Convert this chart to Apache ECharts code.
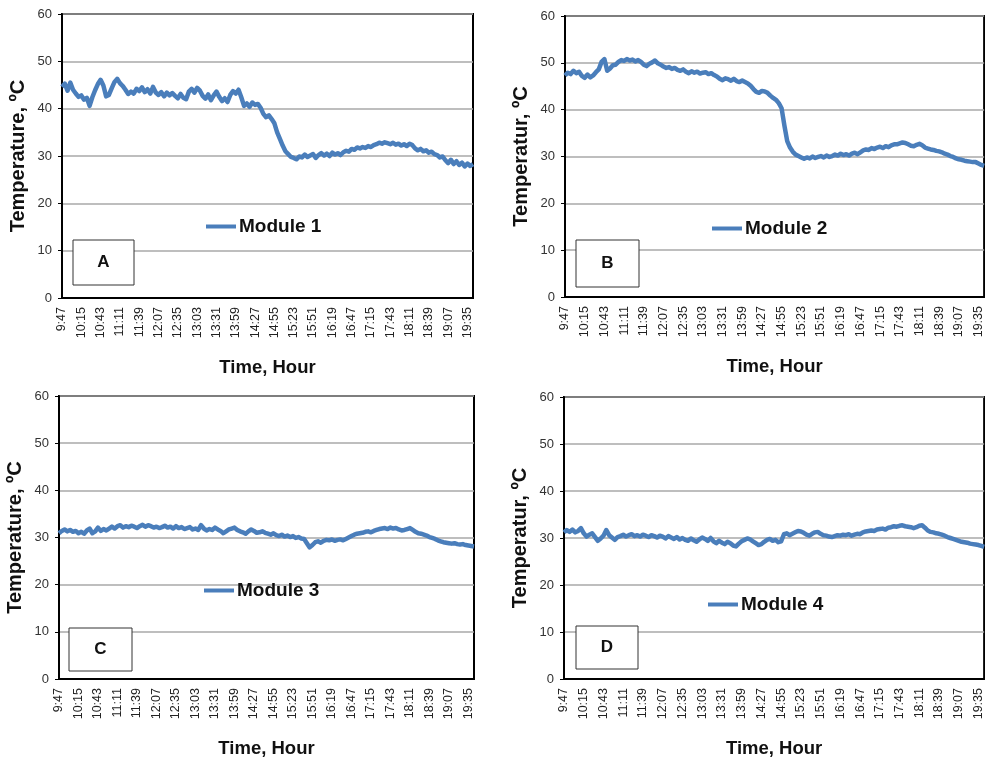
<!DOCTYPE html>
<html>
<head>
<meta charset="utf-8">
<script src="https://cdn.jsdelivr.net/npm/echarts@6/dist/echarts.min.js"></script>
<style>html,body{margin:0;padding:0;background:#fff}#c{width:985px;height:759px}</style>
</head>
<body>
<div id="c"></div>
<script>
// Sampling grid: readings every 4 minutes starting at 9:47 (tick labels every 28 minutes)
const startTime = '9:47';
const stepMinutes = 4;
const tickLabels = ['9:47','10:15','10:43','11:11','11:39','12:07','12:35','13:03','13:31','13:59','14:27','14:55','15:23','15:51','16:19','16:47','17:15','17:43','18:11','18:39','19:07','19:35'];

const module1 = [44.6,45.3,43.8,45.5,44.0,43.2,42.5,42.8,41.9,42.3,
40.6,42.4,43.9,45.2,46.1,44.9,42.6,42.9,44.3,45.6,
46.3,45.4,44.8,44.0,43.1,43.6,43.2,44.2,43.7,44.5,
43.5,44.1,43.2,44.6,43.4,42.9,43.5,42.6,43.4,42.8,
43.3,42.7,42.2,43.1,42.3,42.0,43.6,44.2,43.4,44.4,
43.8,42.7,42.1,43.0,41.8,42.8,43.6,42.5,41.6,42.2,
41.4,42.9,43.7,43.2,44.0,42.4,40.6,41.1,40.4,41.3,
40.8,41.0,40.2,38.9,38.2,38.6,37.8,36.9,35.0,33.6,
32.2,31.0,30.4,29.8,29.6,29.3,29.9,29.7,30.3,29.8,
30.1,30.4,29.6,30.2,30.6,30.1,30.5,30.0,30.7,30.3,
30.6,30.2,30.8,31.1,30.9,31.5,31.3,31.8,31.6,31.9,
31.7,32.1,31.9,32.3,32.5,32.8,32.6,32.9,32.7,32.5,
32.8,32.4,32.6,32.2,32.5,32.1,32.6,32.3,31.6,31.2,
31.5,31.0,31.2,30.7,30.9,30.4,30.2,29.7,29.9,29.1,
28.5,29.2,28.3,28.9,28.1,28.6,27.8,28.4,27.9,28.3];

const module2 = [47.3,47.9,47.6,48.3,47.8,48.1,47.2,46.8,47.5,46.9,
47.3,48.0,48.6,50.2,50.8,48.3,48.8,49.5,49.6,50.2,
50.6,50.4,50.8,50.5,50.7,50.3,50.6,50.2,49.6,49.3,
49.8,50.1,50.5,49.9,49.6,49.2,48.9,49.1,48.7,48.9,
48.5,48.3,48.6,48.1,47.8,48.2,47.9,48.1,47.7,47.9,
48.0,47.6,47.8,47.4,47.1,46.6,46.3,46.7,46.5,46.2,
46.6,46.1,45.9,46.2,45.9,45.6,45.1,44.4,43.8,43.6,
44.0,43.9,43.6,43.0,42.5,42.1,41.4,40.3,36.6,33.3,
31.9,31.0,30.4,30.1,29.8,29.5,29.8,29.6,30.0,29.7,
29.9,30.1,29.8,30.2,29.9,30.1,30.4,30.2,30.6,30.3,
30.5,30.2,30.6,30.8,30.5,30.9,31.3,31.5,31.4,31.8,
31.6,31.9,32.1,31.8,32.2,32.0,32.4,32.6,32.6,32.8,
33.0,32.9,32.6,32.3,32.2,32.5,32.7,32.4,31.9,31.7,
31.5,31.4,31.2,31.1,30.9,30.6,30.4,30.1,29.9,29.6,
29.4,29.3,29.1,29.0,28.9,28.8,28.8,28.5,28.2,28.0];

const module3 = [30.9,31.4,31.7,31.3,31.6,31.2,31.4,30.9,31.2,30.8,
31.5,31.9,30.9,31.3,32.1,31.4,31.8,31.5,31.9,32.3,
31.9,32.4,32.6,32.1,32.4,32.2,32.5,32.3,32.0,32.4,
32.7,32.3,32.6,32.4,32.1,32.3,32.0,32.2,32.5,32.1,
32.3,31.9,32.4,32.0,32.2,31.8,32.0,32.2,31.7,31.9,
31.6,32.6,31.9,31.5,31.8,31.6,32.1,31.7,31.4,30.9,
31.3,31.7,31.9,32.1,31.6,31.3,31.1,30.8,31.3,31.7,
31.4,31.0,31.1,31.3,31.0,30.8,30.6,30.9,30.5,30.3,
30.6,30.2,30.4,30.1,30.3,29.9,30.1,29.8,29.7,28.8,
27.9,28.4,29.0,29.2,28.9,29.3,29.5,29.4,29.6,29.3,
29.5,29.6,29.4,29.7,30.0,30.3,30.6,30.8,30.9,31.0,
31.2,31.3,31.1,31.4,31.6,31.8,31.9,32.0,31.8,32.1,
31.9,32.0,31.7,31.5,31.6,31.8,32.0,31.6,31.2,30.9,
30.8,30.6,30.4,30.1,29.9,29.7,29.4,29.2,29.0,28.9,
28.8,28.7,28.8,28.6,28.5,28.6,28.4,28.3,28.2,28.1];

const module4 = [31.2,31.7,31.3,31.8,31.2,31.5,32.1,31.0,30.3,30.7,
31.0,30.2,29.4,29.9,30.5,31.7,30.6,30.1,29.6,30.2,
30.4,30.7,30.3,30.6,30.8,30.4,30.6,30.3,30.7,30.5,
30.2,30.6,30.4,30.1,30.5,30.3,29.9,30.4,30.1,29.8,
30.2,29.7,30.0,29.6,29.4,29.9,29.5,29.2,29.7,30.1,
29.8,29.4,30.0,29.3,28.9,29.4,29.0,28.7,29.2,28.9,
28.4,28.2,28.8,29.3,29.6,29.9,29.7,29.3,28.9,28.5,
28.7,29.2,29.6,29.8,29.4,29.6,29.1,29.3,30.8,31.0,
30.6,30.9,31.2,31.5,31.4,31.1,30.7,30.5,30.9,31.2,
31.3,30.9,30.6,30.5,30.3,30.2,30.4,30.6,30.5,30.7,
30.6,30.8,30.5,30.7,30.9,30.8,31.2,31.4,31.5,31.6,
31.5,31.8,31.9,32.0,31.8,32.2,32.3,32.5,32.4,32.6,
32.7,32.5,32.4,32.3,32.1,32.3,32.6,32.7,32.2,31.6,
31.3,31.2,31.0,30.9,30.7,30.5,30.2,30.0,29.8,29.6,
29.4,29.2,29.1,29.0,28.8,28.7,28.6,28.5,28.3,28.1];

const seriesNames = ['Module 1','Module 2','Module 3','Module 4'];
const yTitles = ['Temperature, ºC','Temperatur, ºC','Temperature, ºC','Temperatur, ºC'];
const panelLetters = ['A','B','C','D'];
const xTitle = 'Time, Hour';

// build category axis (time stamps of readings)
const categories = [];
{
  const [h0, m0] = startTime.split(':').map(Number);
  let t = h0 * 60 + m0;
  for (let i = 0; i < module1.length; i++) {
    const h = Math.floor(t / 60), m = t % 60;
    categories.push(h + ':' + String(m).padStart(2, '0'));
    t += stepMinutes;
  }
}

const allData = [module1, module2, module3, module4];
const grids = [
  {left: 62, top: 14, width: 411, height: 284},
  {left: 565, top: 16, width: 422, height: 281},
  {left: 59, top: 396, width: 415, height: 287},
  {left: 564, top: 397, width: 421, height: 285}
];
const legendPos = [
  {left: 206, top: 217},
  {left: 712, top: 219},
  {left: 204, top: 581},
  {left: 708, top: 595}
];
const boxes = [
  {x: 73, y: 240, w: 61, h: 45},
  {x: 576, y: 240, w: 63, h: 47},
  {x: 69, y: 628, w: 63, h: 43},
  {x: 576, y: 626, w: 62, h: 43}
];
const FONT = '"Liberation Sans", Arial, sans-serif';
const LINE = '#4a7ebb';

const option = {
  animation: false,
  backgroundColor: '#fff',
  grid: grids.map(g => Object.assign({show: true, borderColor: '#000', borderWidth: 2, backgroundColor: '#fff', containLabel: false}, g)),
  xAxis: grids.map((g, k) => ({
    type: 'category', gridIndex: k, data: categories, boundaryGap: false,
    axisLine: {show: true, lineStyle: {color: '#000', width: 2}},
    axisTick: {show: false},
    axisLabel: {rotate: 90, interval: 6, fontFamily: FONT, fontSize: 12.5, color: '#222', margin: 9},
    splitLine: {show: false},
    name: xTitle, nameLocation: 'middle', nameGap: 60,
    nameTextStyle: {fontFamily: FONT, fontSize: 18.5, fontWeight: 'bold', color: '#111'}
  })),
  yAxis: grids.map((g, k) => ({
    type: 'value', gridIndex: k, min: 0, max: 60, interval: 10,
    axisLine: {show: true, lineStyle: {color: '#000', width: 2}},
    axisTick: {show: true, length: 4, lineStyle: {color: '#000'}},
    axisLabel: {fontFamily: FONT, fontSize: 13, color: '#333', margin: 10},
    splitLine: {show: true, lineStyle: {color: '#a8a8a8', width: 1.5}},
    name: yTitles[k], nameLocation: 'middle', nameGap: 34, nameRotate: 90,
    nameTextStyle: {fontFamily: FONT, fontSize: 20, fontWeight: 'bold', color: '#111'}
  })),
  legend: legendPos.map((p, k) => ({
    data: [seriesNames[k]], left: p.left, top: p.top, icon: 'rect',
    itemWidth: 30, itemHeight: 4, itemGap: 4, padding: 0,
    textStyle: {fontFamily: FONT, fontSize: 19, fontWeight: 'bold', color: '#111', padding: [0, 0, 0, -2]}
  })),
  series: allData.map((d, k) => ({
    type: 'line', name: seriesNames[k], xAxisIndex: k, yAxisIndex: k, data: d,
    showSymbol: false, symbol: 'none', smooth: false,
    lineStyle: {color: LINE, width: 4.5, join: 'round'}, itemStyle: {color: LINE}, z: 3
  })),
  graphic: boxes.flatMap((b, k) => [
    {type: 'rect', z: 10, shape: {x: b.x, y: b.y, width: b.w, height: b.h},
     style: {fill: '#fff', stroke: '#333', lineWidth: 1}},
    {type: 'text', z: 11, x: b.x + b.w / 2, y: b.y + b.h / 2,
     style: {text: panelLetters[k], fontFamily: FONT, fontSize: 17, fontWeight: 'bold', fill: '#111', align: 'center', verticalAlign: 'middle'}}
  ])
};

const chart = echarts.init(document.getElementById('c'), null, {renderer: 'canvas'});
chart.setOption(option);
</script>
</body>
</html>
